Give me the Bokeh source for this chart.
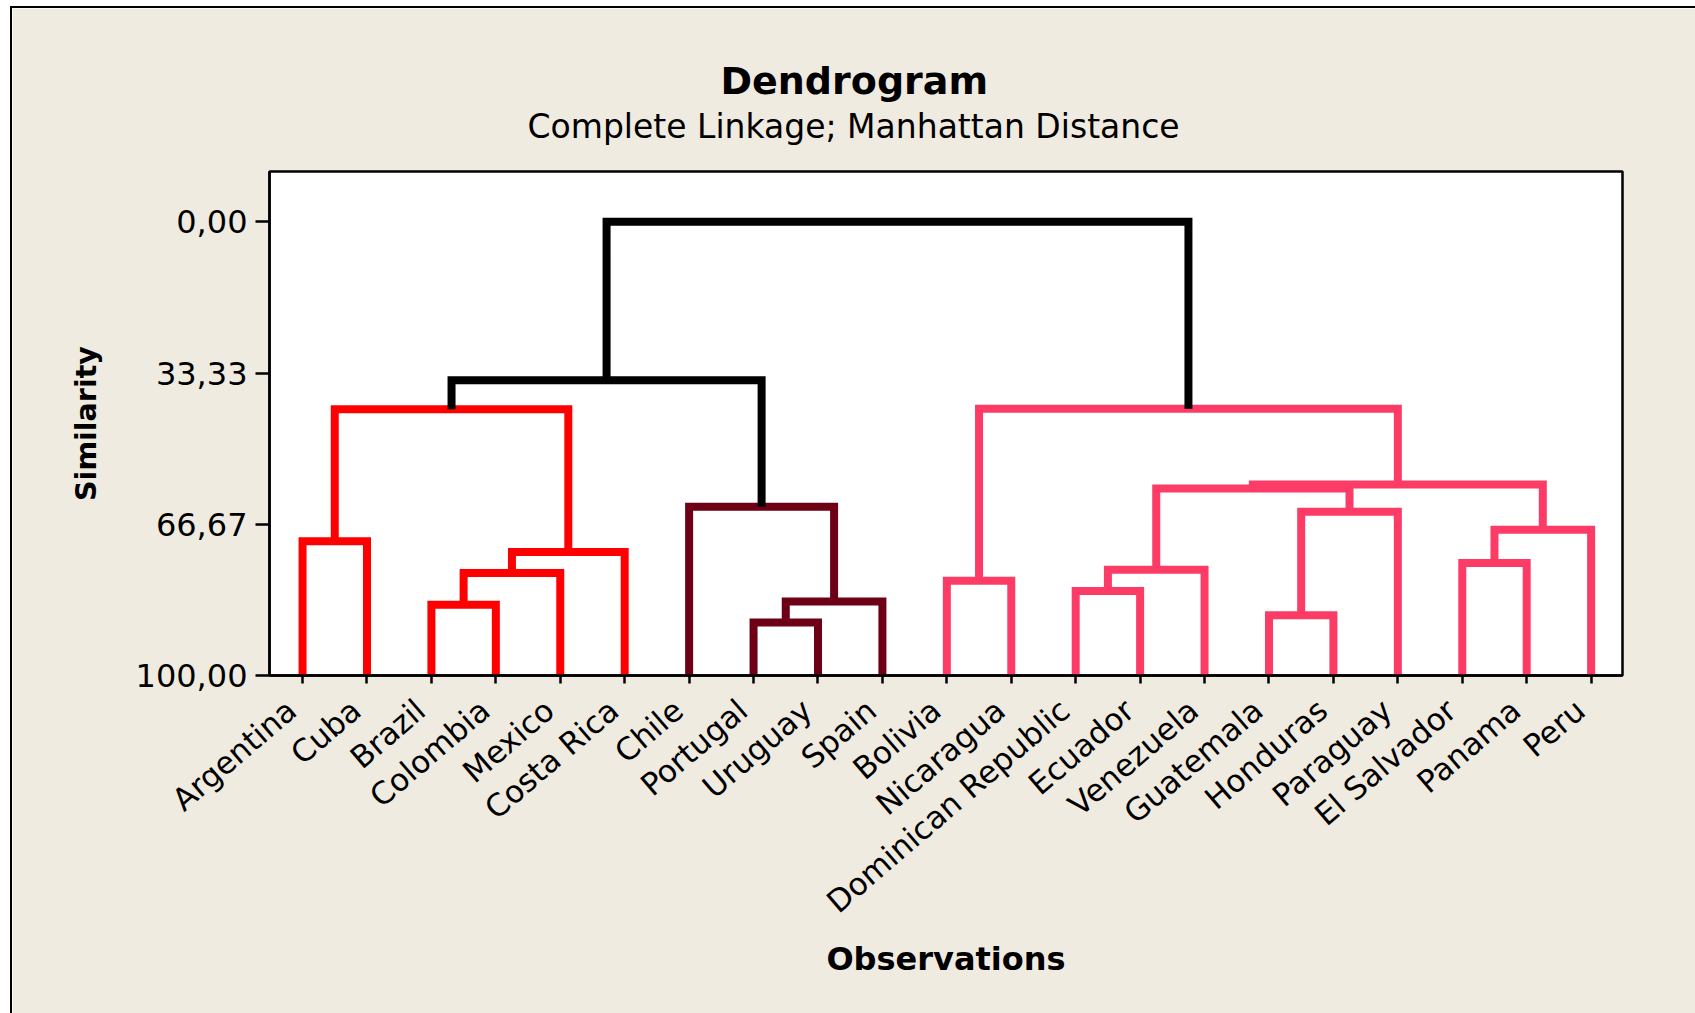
import math
from bokeh.plotting import figure
from bokeh.models import Range1d, FixedTicker, Title, LinearAxis
from bokeh.embed import file_html
from bokeh.resources import INLINE

# ---- data ----
leaves = ["Argentina", "Cuba", "Brazil", "Colombia", "Mexico", "Costa Rica",
          "Chile", "Portugal", "Uruguay", "Spain", "Bolivia", "Nicaragua",
          "Dominican Republic", "Ecuador", "Venezuela", "Guatemala", "Honduras",
          "Paraguay", "El Salvador", "Panama", "Peru"]

# merges: (left id, right id) ; ids 0..20 are leaves, 21+ are merged clusters in order
merge_left = [7, 15, 2, 21, 12, 10, 23, 25, 18, 27, 0, 29, 22, 6, 28, 35, 31, 26, 37, 39]
merge_right = [8, 16, 3, 9, 13, 11, 4, 14, 19, 5, 1, 20, 17, 24, 33, 32, 30, 36, 34, 38]
merge_similarity = [88.3, 86.7, 84.4, 83.7, 81.4, 79.1, 77.4, 76.7, 75.2, 72.8,
                    70.4, 67.9, 63.9, 62.8, 58.8, 57.9, 41.3, 41.2, 34.9, 0.0]
merge_group = ["maroon", "pink", "red", "maroon", "pink", "pink", "red", "pink", "pink", "red",
               "red", "pink", "pink", "maroon", "pink", "pink", "red", "pink", "black", "black"]

y_ticks = [0, 33.33, 66.67, 100]
y_tick_labels = ["0,00", "33,33", "66,67", "100,00"]

group_colors = {"red": "#FF0000", "maroon": "#6E0016", "pink": "#FC3C66", "black": "#000000"}

# ---- build link paths ----
n = len(leaves)
pos = {i: i + 1 for i in range(n)}
hgt = {i: 100.0 for i in range(n)}
xs, ys, cols = [], [], []
for k, (a, b, s, g) in enumerate(zip(merge_left, merge_right, merge_similarity, merge_group)):
    cid = n + k
    xs.append([pos[a], pos[a], pos[b], pos[b]])
    ys.append([hgt[a], s, s, hgt[b]])
    cols.append(group_colors[g])
    pos[cid] = (pos[a] + pos[b]) / 2.0
    hgt[cid] = s

FONT = "DejaVu Sans"
BG = "#EFEBE1"
X0 = 0.487
LABEL_SHIFT = 0.17  # label anchor sits slightly left of its tick, as in the original

p = figure(width=1683, height=1005, output_backend="svg", toolbar_location=None,
           x_range=Range1d(X0, n + X0), y_range=Range1d(100, -11.09),
           min_border_left=257, min_border_right=73, min_border_top=163, min_border_bottom=338)
p.extra_x_ranges = {"labels": Range1d(X0 + LABEL_SHIFT, n + X0 + LABEL_SHIFT)}
p.margin = (8, 0, 0, 12)
p.styles = {"outline": "2px solid black"}
p.border_fill_color = BG
p.background_fill_color = "white"
p.outline_line_color = "black"
p.outline_line_width = 2.5
p.grid.visible = False

p.multi_line(xs=xs, ys=ys, line_color=cols, line_width=8, line_join="miter", line_cap="butt")

# x axis: ticks only
xticks = list(range(1, n + 1))
p.xaxis.ticker = FixedTicker(ticks=xticks)
p.xaxis.major_label_overrides = {t: "" for t in xticks}
p.xaxis.major_label_text_font_size = "1px"
p.xaxis.major_label_standoff = 0
p.xaxis.major_tick_out = 8
p.xaxis.major_tick_in = 0
p.xaxis.minor_tick_line_color = None
p.xaxis.axis_line_color = "black"
p.xaxis.axis_line_width = 2.5
p.xaxis.major_tick_line_color = "black"
p.xaxis.major_tick_line_width = 2.5

# second x axis: the observation names and axis title
lab_axis = LinearAxis(x_range_name="labels", ticker=FixedTicker(ticks=xticks))
lab_axis.major_label_overrides = {i + 1: name for i, name in enumerate(leaves)}
lab_axis.major_label_orientation = 0.71
lab_axis.major_label_text_font = FONT
lab_axis.major_label_text_font_size = "31px"
lab_axis.major_label_text_color = "black"
lab_axis.major_label_standoff = 22
lab_axis.major_tick_out = 0
lab_axis.major_tick_in = 0
lab_axis.major_tick_line_color = None
lab_axis.minor_tick_line_color = None
lab_axis.axis_line_color = None
lab_axis.axis_label = "Observations"
lab_axis.axis_label_text_font = FONT
lab_axis.axis_label_text_font_size = "32px"
lab_axis.axis_label_text_font_style = "bold"
lab_axis.axis_label_text_color = "black"
lab_axis.axis_label_standoff = 3
p.add_layout(lab_axis, "below")

# y axis
p.yaxis.ticker = FixedTicker(ticks=y_ticks)
p.yaxis.major_label_overrides = {t: l for t, l in zip(y_ticks, y_tick_labels)}
p.yaxis.major_label_text_font = FONT
p.yaxis.major_label_text_font_size = "32px"
p.yaxis.major_label_text_color = "black"
p.yaxis.major_label_standoff = 8
p.yaxis.major_tick_out = 14
p.yaxis.major_tick_in = 0
p.yaxis.minor_tick_line_color = None
p.yaxis.axis_label = "Similarity"
p.yaxis.axis_label_text_font = FONT
p.yaxis.axis_label_text_font_size = "28.5px"
p.yaxis.axis_label_text_font_style = "bold"
p.yaxis.axis_label_text_color = "black"
p.yaxis.axis_label_standoff = 30
p.yaxis.axis_line_color = "black"
p.yaxis.axis_line_width = 2.5
p.yaxis.major_tick_line_color = "black"
p.yaxis.major_tick_line_width = 2.5

# titles (first added sits closest to the frame)
p.add_layout(Title(text="Complete Linkage; Manhattan Distance", align="left", offset=258,
                   text_font=FONT, text_font_size="33px", text_font_style="normal",
                   text_color="black", standoff=52), "above")
p.add_layout(Title(text="Dendrogram", align="left", offset=451,
                   text_font=FONT, text_font_size="38px", text_font_style="bold",
                   text_color="black", standoff=-49), "above")

open("out.html", "w").write(file_html(p, INLINE))
